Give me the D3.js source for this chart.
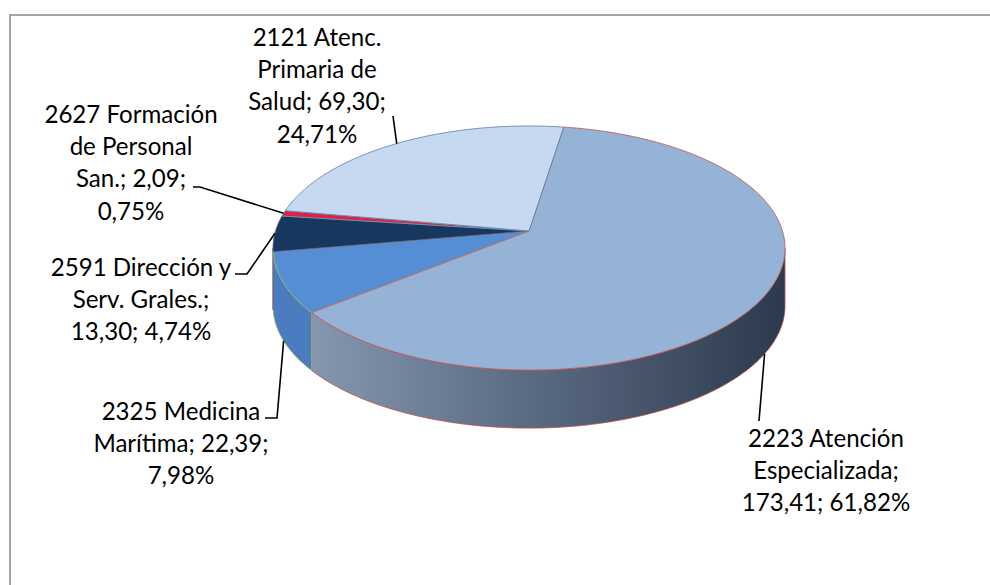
<!DOCTYPE html>
<html>
<head>
<meta charset="utf-8">
<script src="https://cdn.jsdelivr.net/npm/d3@7"></script>
<style>
  html, body { margin: 0; padding: 0; background: #ffffff; }
  svg { display: block; }
  text { font-family: Lato, "Open Sans", "Noto Sans", sans-serif; fill: #000; }
</style>
</head>
<body>
<svg id="chart" width="990" height="585"></svg>
<script>
// Gasto por programa (millones de euros)
const categories = [
  "2121 Atenc. Primaria de Salud",
  "2223 Atención Especializada",
  "2325 Medicina Marítima",
  "2591 Dirección y Serv. Grales.",
  "2627 Formación de Personal San."
];
const values = [69.30, 173.41, 22.39, 13.30, 2.09];

// Slice styling
const topColors  = ["#c6d9f0", "#95b3d7", "#558ed5", "#17375e", "#e3203d"];
const sideColors = ["#a9bfdc", "url(#sideBig)", "#4a7cbf", "#142f52", "#b81a31"];
const edgeColors = ["#5b7aa3", "#c0504d", "#9bbb59", "#6a5a8c", "#4bacc6"];

// Words per label line for each slice
const wrapCounts = [[2, 2, 2, 1], [2, 1, 2], [2, 2, 1], [3, 2, 2], [2, 2, 2, 1]];

// Label placement: centre x, first-line centre y, leader points after the slice anchor
const labelLayout = [
  { x: 317, y: 37,  leader: [[393, 116]] },
  { x: 826, y: 438, leader: [[759, 421]] },
  { x: 181, y: 411, leader: [[277, 418], [265, 418]] },
  { x: 141, y: 267, leader: [[247, 274], [235, 274]] },
  { x: 131, y: 114, leader: [[200, 187], [193, 187]] }
];

// Paint order of the top faces (the first slice's outline ends up on top)
const topOrder = [2, 3, 4, 1, 0];

const svg = d3.select("#chart");
const W = 990, H = 585;

// Chart area frame
svg.append("rect")
  .attr("x", 10).attr("y", 15)
  .attr("width", W + 20).attr("height", H + 20)
  .attr("fill", "#ffffff")
  .attr("stroke", "#a5a5a5").attr("stroke-width", 2);

// Perspective disc geometry
const CX = 529, CY = 231;     // projected pie centre
const SX = 253.5, SY = 119.7; // horizontal / vertical radii before perspective
const P = -0.1396;            // perspective factor (near side larger)
const DEPTH = 58;             // thickness of the pie

function project(a, dy) {
  const u = Math.sin(a), v = -Math.cos(a);
  const w = 1 + P * v;
  return [CX + SX * u / w, CY + SY * v / w + (dy || 0)];
}

function arcPoints(a0, a1, dy) {
  const n = Math.max(2, Math.ceil(Math.abs(a1 - a0) / (Math.PI / 360)));
  return d3.range(n + 1).map(i => project(a0 + (a1 - a0) * i / n, dy));
}

// Front-facing rim: where the projected rim reaches its horizontal extremes
const frontStart = Math.acos(P);             // ~98°
const frontEnd = 2 * Math.PI - Math.acos(P); // ~262°

const start = 280 * Math.PI / 180;
const pie = d3.pie().sort(null).value(d => d)
  .startAngle(start).endAngle(start + 2 * Math.PI);
const arcs = pie(values);

const line = d3.line();

const defs = svg.append("defs");
const g1 = defs.append("linearGradient").attr("id", "sideBig")
  .attr("gradientUnits", "userSpaceOnUse")
  .attr("x1", CX - 256).attr("x2", CX + 256).attr("y1", 0).attr("y2", 0);
g1.append("stop").attr("offset", 0).attr("stop-color", "#8d9fb8");
g1.append("stop").attr("offset", 0.45).attr("stop-color", "#5f6f86");
g1.append("stop").attr("offset", 1).attr("stop-color", "#2c3a4e");

function normAngles(d) {
  // bring angles into [0, 2π) keeping a1 > a0
  const a0 = d.startAngle % (2 * Math.PI);
  const a1 = a0 + (d.endAngle - d.startAngle);
  return [a0, a1];
}

// Side walls (front portion only)
const sides = svg.append("g");
arcs.forEach((d, i) => {
  const [a0, a1] = normAngles(d);
  const ranges = [[a0, a1], [a0 - 2 * Math.PI, a1 - 2 * Math.PI]];
  ranges.forEach(([b0, b1]) => {
    const s0 = Math.max(b0, frontStart), s1 = Math.min(b1, frontEnd);
    if (s1 <= s0) return;
    const pts = arcPoints(s0, s1, 0).concat(arcPoints(s1, s0, DEPTH));
    sides.append("path")
      .attr("d", line(pts) + "Z")
      .attr("fill", sideColors[i])
      .attr("stroke", edgeColors[i])
      .attr("stroke-width", 0.8)
      .attr("stroke-linejoin", "round");
  });
});

// Top faces
const tops = svg.append("g");
topOrder.forEach(i => {
  const d = arcs[i];
  const pts = [[CX, CY]].concat(arcPoints(d.startAngle, d.endAngle, 0));
  tops.append("path")
    .attr("d", line(pts) + "Z")
    .attr("fill", topColors[i])
    .attr("stroke", edgeColors[i])
    .attr("stroke-width", 0.8)
    .attr("stroke-linejoin", "round");
});

// Labels: "category; value; percent"
const total = d3.sum(values);
const es = d3.formatLocale({ decimal: ",", thousands: ".", grouping: [3], currency: ["", " €"] });
const fmtVal = es.format(".2f");
const fmtPct = es.format(".2%");

const labelTexts = arcs.map((d, i) =>
  `${categories[i]}; ${fmtVal(values[i])}; ${fmtPct(values[i] / total)}`);

const labelLines = labelTexts.map((t, i) => {
  const words = t.split(" ");
  const out = [];
  let k = 0;
  wrapCounts[i].forEach(c => { out.push(words.slice(k, k + c).join(" ")); k += c; });
  return out;
});

const LINE_H = 32.4;
const labels = svg.append("g");

// size the font so the labels keep their intended widths
const probe = labels.append("text").attr("font-size", 100).text("2223 Atención");
const probeW = probe.node().getComputedTextLength();
probe.remove();
const fontSize = 100 * 156 / probeW;

labelLines.forEach((lines, i) => {
  const L = labelLayout[i];
  const t = labels.append("text")
    .attr("text-anchor", "middle")
    .attr("font-size", fontSize);
  lines.forEach((s, j) => {
    t.append("tspan")
      .attr("x", L.x)
      .attr("y", L.y + j * LINE_H)
      .attr("dy", "0.36em")
      .text(s);
  });
});

// Leader lines from each slice to its label
const leaders = svg.append("g");
arcs.forEach((d, i) => {
  const [a0, a1] = normAngles(d);
  const mid = ((a0 + a1) / 2) % (2 * Math.PI);
  const front = mid > frontStart && mid < frontEnd;
  const anchor = project(mid, front ? DEPTH : 0);
  const pts = [anchor].concat(labelLayout[i].leader);
  leaders.append("path")
    .attr("d", line(pts))
    .attr("fill", "none")
    .attr("stroke", "#000")
    .attr("stroke-width", 1.6);
});
</script>
</body>
</html>
